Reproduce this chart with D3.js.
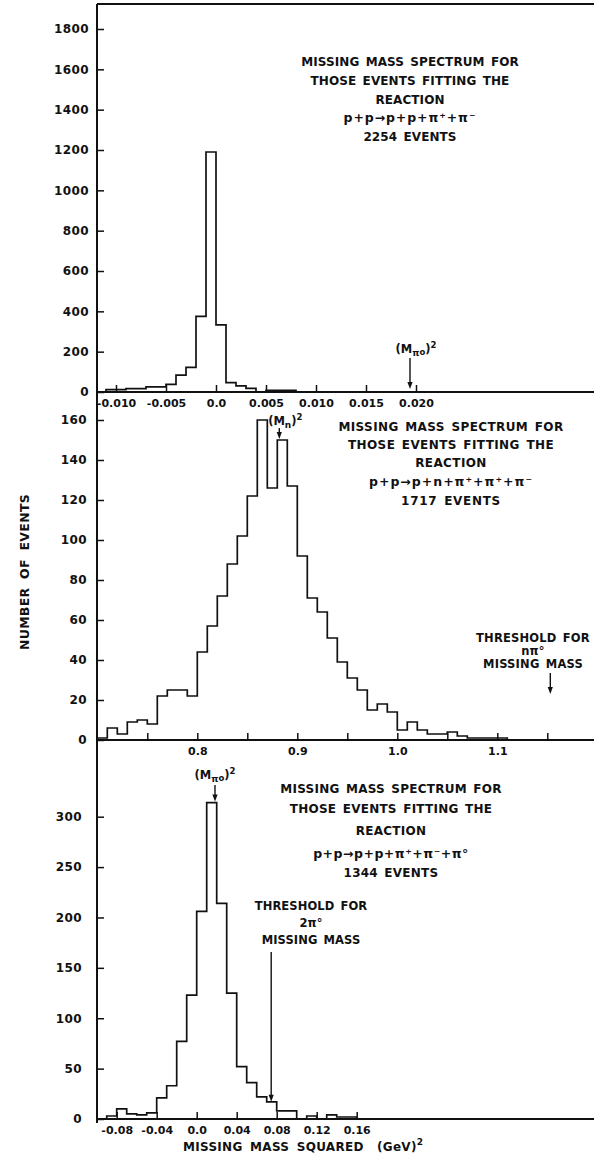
<!DOCTYPE html>
<html><head><meta charset="utf-8">
<script src="https://cdn.jsdelivr.net/npm/d3@7"></script>
<style>
html,body{margin:0;padding:0;background:#fff;}
svg{display:block;}
text{font-family:"DejaVu Sans",sans-serif;fill:#111;font-weight:bold;}
</style></head><body>
<svg id="chart" width="594" height="1154"></svg>
<script>
// ---- Spectrum 1: p+p -> p+p+pi+ +pi-  (bins of 0.001 GeV^2) ----
const ppBinStart = -0.011, ppBinWidth = 0.001;
const ppCounts = [12,12,17,17,25,25,38,84,122,375,1190,333,46,30,18,0,8,8,8];
const ppXTicks = [-0.010,-0.005,0.0,0.005,0.010,0.015,0.020];
const ppXLabels = ["-0.010","-0.005","0.0","0.005","0.010","0.015","0.020"];
const ppYTicks = [0,200,400,600,800,1000,1200,1400,1600,1800];
const ppMarker = 0.0194;            // (M_pi0)^2 position

// ---- Spectrum 2: p+p -> p+n+pi+ +pi+ +pi-  (bins of 0.01 GeV^2) ----
const pnBinStart = 0.70, pnBinWidth = 0.01;
const pnCounts = [1,6,3,9,10,8,22,25,25,22,44,57,72,88,102,122,160,126,150,127,
                  92,71,64,51,39,31,25,15,18,14,5,9,5,3,3,4,2,1,1,1,1];
const pnXTicks = [0.75,0.80,0.85,0.90,0.95,1.00,1.05,1.10,1.15];
const pnXLabels = ["","0.8","","0.9","","1.0","","1.1",""];
const pnYTicks = [0,20,40,60,80,100,120,140,160];
const pnMarker = 0.882;             // (M_n)^2
const pnThreshold = 1.153;          // n pi0 threshold

// ---- Spectrum 3: p+p -> p+p+pi+ +pi- +pi0  (bins of 0.01 GeV^2) ----
const p0BinStart = -0.09, p0BinWidth = 0.01;
const p0Counts = [3,10,5,4,6,21,33,77,123,206,314,214,125,52,36,22,17,8,8,0,3,0,4,2,2];
const p0XTicks = [-0.08,-0.04,0.0,0.04,0.08,0.12,0.16];
const p0XLabels = ["-0.08","-0.04","0.0","0.04","0.08","0.12","0.16"];
const p0YTicks = [0,50,100,150,200,250,300];
const p0Marker = 0.0183;            // (M_pi0)^2
const p0Threshold = 0.0745;         // 2 pi0 threshold

const svg = d3.select("#chart");
const W = 594, axisX = 97, INK = "#111";

// panel layout: x scale via two reference ticks, y scale via 0 and top tick
const panels = [
  {start: ppBinStart, width: ppBinWidth, counts: ppCounts,
   xs: d3.scaleLinear().domain([-0.010, 0.020]).range([116, 416]),
   ys: d3.scaleLinear().domain([0, 1800]).range([392, 29]),
   xt: ppXTicks, xl: ppXLabels, yt: ppYTicks, ypad: 8},
  {start: pnBinStart, width: pnBinWidth, counts: pnCounts,
   xs: d3.scaleLinear().domain([0.8, 1.1]).range([197.3, 497.3]),
   ys: d3.scaleLinear().domain([0, 160]).range([740, 420]),
   xt: pnXTicks, xl: pnXLabels, yt: pnYTicks, ypad: 10},
  {start: p0BinStart, width: p0BinWidth, counts: p0Counts,
   xs: d3.scaleLinear().domain([-0.08, 0.16]).range([116.7, 356.7]),
   ys: d3.scaleLinear().domain([0, 300]).range([1119, 816.7]),
   xt: p0XTicks, xl: p0XLabels, yt: p0YTicks, ypad: 15}
];

// outer frame: left axis and top border
svg.append("line").attr("x1", axisX).attr("x2", axisX).attr("y1", 4).attr("y2", 1123)
  .attr("stroke", INK).attr("stroke-width", 2);
svg.append("line").attr("x1", axisX).attr("x2", W).attr("y1", 4).attr("y2", 4)
  .attr("stroke", INK).attr("stroke-width", 1.8);

const step = d3.line().curve(d3.curveStepAfter);

panels.forEach(p => {
  const base = p.ys(0);
  // baseline
  svg.append("line").attr("x1", axisX).attr("x2", W).attr("y1", base).attr("y2", base)
    .attr("stroke", INK).attr("stroke-width", 2);

  // x axis: ticks point up into the panel
  const xa = svg.append("g").attr("transform", `translate(0,${base})`)
    .call(d3.axisBottom(p.xs).tickValues(p.xt)
      .tickFormat((d, i) => p.xl[i]).tickSize(-7).tickPadding(7));
  xa.select(".domain").remove();
  xa.selectAll(".tick line").attr("stroke", INK).attr("stroke-width", 1.5);
  xa.selectAll("text").attr("font-size", 11).attr("fill", INK)
    .style("font-family", '"DejaVu Sans",sans-serif');

  // y axis: ticks point right into the panel
  const ya = svg.append("g").attr("transform", `translate(${axisX},0)`)
    .call(d3.axisLeft(p.ys).tickValues(p.yt).tickFormat(d3.format("d"))
      .tickSize(-7).tickPadding(p.ypad));
  ya.select(".domain").remove();
  ya.selectAll(".tick line").attr("stroke", INK).attr("stroke-width", 1.5);
  ya.selectAll("text").attr("font-size", 12).attr("fill", INK)
    .attr("letter-spacing", 0.4)
    .style("font-family", '"DejaVu Sans",sans-serif');

  // histogram outline
  const pts = [[p.xs(p.start), base]];
  p.counts.forEach((c, i) => pts.push([p.xs(p.start + i * p.width), p.ys(c)]));
  const end = p.start + p.counts.length * p.width;
  pts.push([p.xs(end), p.ys(p.counts[p.counts.length - 1])]);
  pts.push([p.xs(end), base]);
  svg.append("path").attr("d", step(pts)).attr("fill", "none")
    .attr("stroke", INK).attr("stroke-width", 1.7).attr("stroke-linejoin", "miter");
});

// helpers -------------------------------------------------------------
function arrow(x, y1, y2) {
  svg.append("line").attr("x1", x).attr("x2", x).attr("y1", y1).attr("y2", y2 - 5)
    .attr("stroke", INK).attr("stroke-width", 1.4);
  svg.append("path").attr("d", `M${x - 2.6},${y2 - 7}L${x + 2.6},${y2 - 7}L${x},${y2}Z`)
    .attr("fill", INK);
}
function block(cx, lines, size, spacing) {
  lines.forEach(l => {
    svg.append("text").attr("x", cx).attr("y", l.y)
      .attr("text-anchor", "middle").attr("font-size", l.size || size)
      .attr("letter-spacing", l.ls !== undefined ? l.ls : spacing)
      .attr("word-spacing", 2).text(l.t);
  });
}
// "(M_x)^2" style label
function massLabel(cx, y, sub, subTail) {
  const t = svg.append("text").attr("x", cx).attr("y", y).attr("text-anchor", "middle")
    .attr("font-size", 11.5).attr("font-weight", "normal");
  t.append("tspan").text("(M");
  t.append("tspan").text(sub).attr("font-size", 9).attr("dy", 3);
  if (subTail) t.append("tspan").text(subTail).attr("font-size", 8.5).attr("dy", -1.5);
  t.append("tspan").text(")").attr("dy", subTail ? -1.5 : -3);
  t.append("tspan").text("2").attr("font-size", 8.5).attr("dy", -5);
}

const [P1, P2, P3] = panels;

// panel 1 annotations
block(410, [
  {y: 66, t: "MISSING MASS SPECTRUM FOR"},
  {y: 84.5, t: "THOSE EVENTS FITTING THE"},
  {y: 104, t: "REACTION"},
  {y: 122, t: "p+p\u2192p+p+\u03c0\u207a+\u03c0\u207b", size: 12.5, ls: 0.9},
  {y: 141, t: "2254 EVENTS"}
], 12, 0.1);
massLabel(P1.xs(ppMarker) + 6, 353, "\u03c0", "o");
arrow(P1.xs(ppMarker), 358, 389);

// panel 2 annotations
block(451, [
  {y: 430.5, t: "MISSING MASS SPECTRUM FOR"},
  {y: 448.5, t: "THOSE EVENTS FITTING THE"},
  {y: 467, t: "REACTION"},
  {y: 485.5, t: "p+p\u2192p+n+\u03c0\u207a+\u03c0\u207a+\u03c0\u207b", size: 12.5, ls: 1},
  {y: 504.5, t: "1717 EVENTS", ls: 0.7}
], 12, 0.4);
massLabel(P2.xs(pnMarker) + 6, 425, "n");
arrow(P2.xs(pnMarker), 428, P2.ys(150) - 1);
block(533, [
  {y: 641.5, t: "THRESHOLD FOR"},
  {y: 655, t: "n\u03c0\u00b0"},
  {y: 667.5, t: "MISSING  MASS"}
], 11.5, 0.2);
arrow(P2.xs(pnThreshold), 673, 694);

// panel 3 annotations
block(391, [
  {y: 793, t: "MISSING MASS SPECTRUM FOR"},
  {y: 813, t: "THOSE EVENTS FITTING THE"},
  {y: 834.5, t: "REACTION"},
  {y: 858, t: "p+p\u2192p+p+\u03c0\u207a+\u03c0\u207b+\u03c0\u00b0", size: 12.5, ls: 0.5},
  {y: 877, t: "1344  EVENTS"}
], 12, 0.25);
massLabel(P3.xs(p0Marker), 779, "\u03c0", "o");
arrow(P3.xs(p0Marker), 785, P3.ys(314) - 1);
block(311, [
  {y: 910, t: "THRESHOLD FOR"},
  {y: 927, t: "2\u03c0\u00b0"},
  {y: 944, t: "MISSING MASS"}
], 11.5, 0.1);
arrow(P3.xs(p0Threshold), 952, P3.ys(17));

// axis titles
svg.append("text").attr("transform", "translate(29,572) rotate(-90)")
  .attr("text-anchor", "middle").attr("font-size", 12.5)
  .attr("letter-spacing", 0.3).attr("word-spacing", 4).text("NUMBER OF EVENTS");
const xt = svg.append("text").attr("x", 183).attr("y", 1151).attr("font-size", 12)
  .attr("letter-spacing", 0.3).attr("word-spacing", 3);
xt.append("tspan").text("MISSING MASS SQUARED");
xt.append("tspan").attr("x", 377).text("(GeV)");
xt.append("tspan").text("2").attr("font-size", 9).attr("dy", -6);
</script>
</body></html>
